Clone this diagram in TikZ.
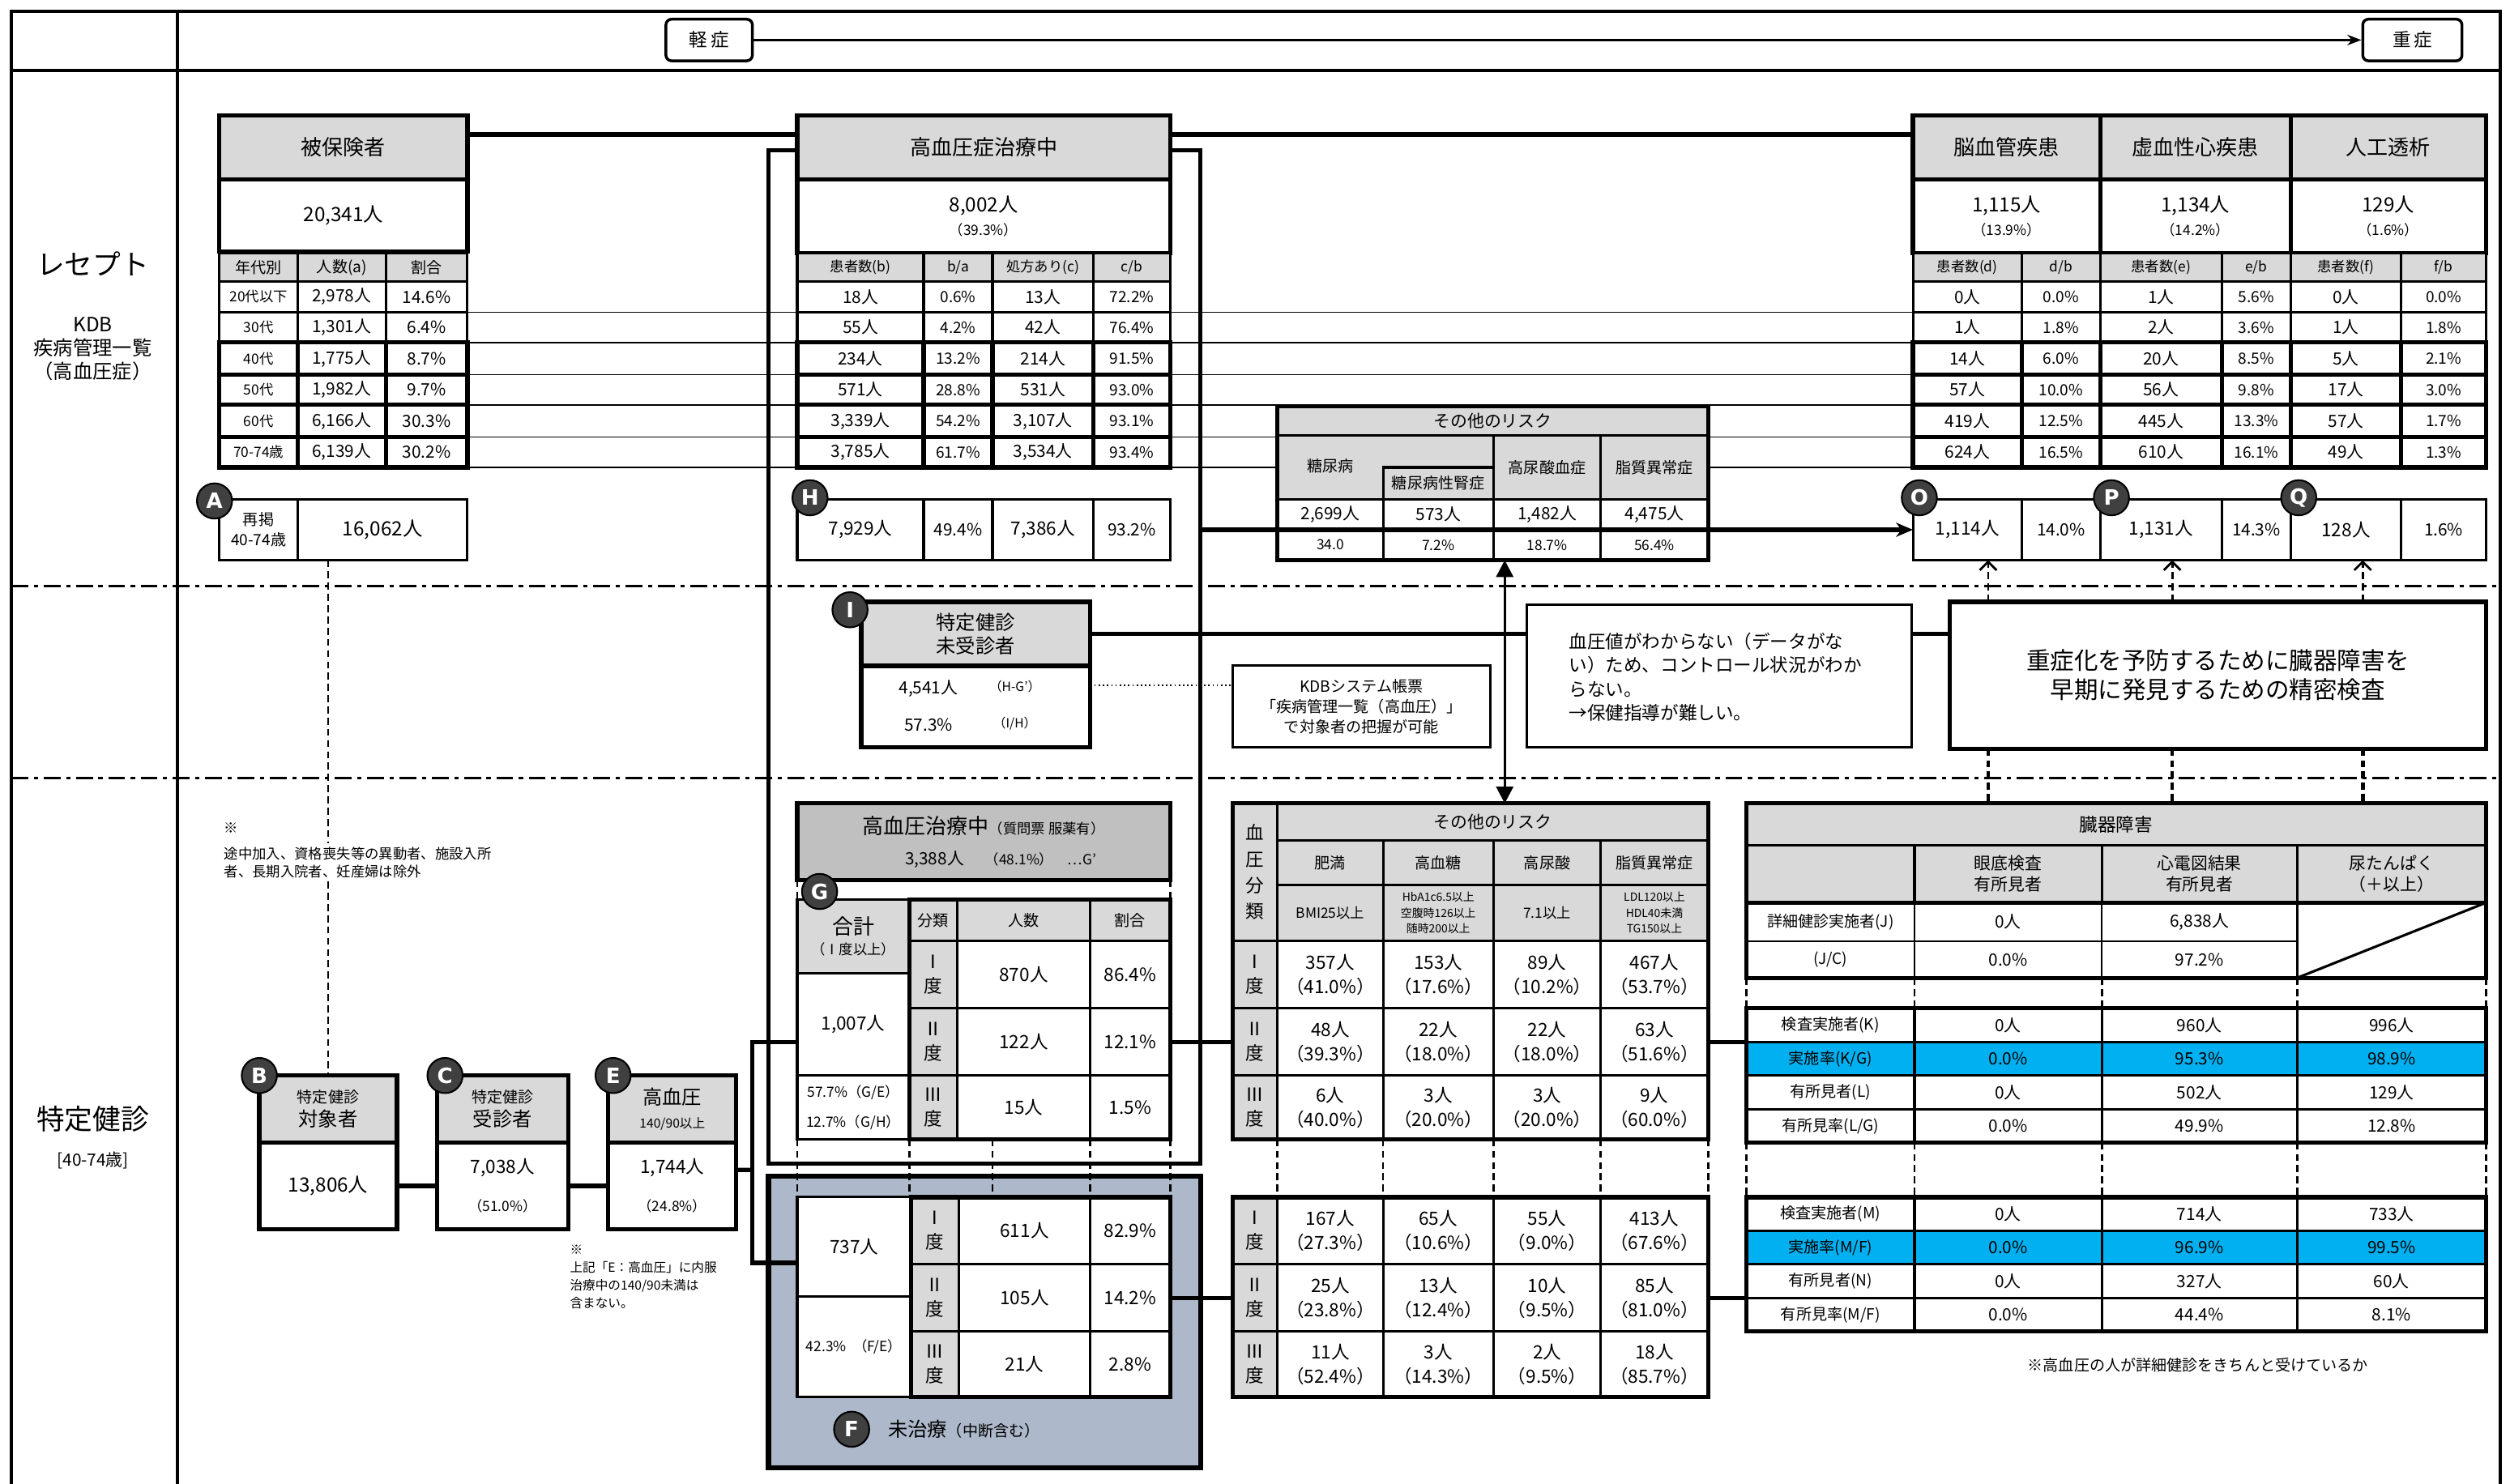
\documentclass[tikz,border=0pt]{standalone}
\usepackage{fontspec}
\setmainfont{Noto Sans CJK JP}
\newfontfamily\badgefont{DejaVu Sans}
\usetikzlibrary{arrows.meta,positioning}
\pgfdeclarelayer{bg}
\pgfsetlayers{bg,main}
\definecolor{hdgray}{HTML}{D9D9D9}
\definecolor{gdark}{HTML}{C0C0C0}
\definecolor{fblue}{HTML}{ADB9CA}
\definecolor{rcyan}{HTML}{00B0F0}
\definecolor{bdgray}{HTML}{404040}
\newcommand{\sz}[2]{\fontsize{#1}{#2}\selectfont}
% cell: [opts]{name}{x1}{y1}{x2}{y2}{text}
\newcommand{\tcell}[7][]{\node[tc,#1,minimum width={(#5-#3)*0.02cm},minimum height={(#6-#4)*0.02cm}] (#2) at ({(#3+#5)/2},{(#4+#6)/2}) {#7};}
\tikzset{
tc/.style={draw,fill=white,line width=0.5pt,inner sep=0pt,outer sep=0pt,align=center},
hd/.style={fill=hdgray},
thk/.style={line width=1.5pt},
med/.style={line width=0.9pt},
conn/.style={line width=1.5pt},
guide/.style={line width=0.4pt},
dd/.style={line width=0.8pt,dash pattern=on 6pt off 2pt on 1.5pt off 2pt},
cdash/.style={line width=0.8pt,dash pattern=on 2.5pt off 1.5pt},
t40/.style={font=\sz{4}{5.6}},
t45/.style={font=\sz{4.5}{6.3}},
t50/.style={font=\sz{5}{6.5}},
t55/.style={font=\sz{5.5}{7.2}},
t60/.style={font=\sz{6}{7.6}},
t65/.style={font=\sz{6.5}{8.5}},
t70/.style={font=\sz{7}{8.4}},
t75/.style={font=\sz{7.5}{9}},
t85/.style={font=\sz{8.5}{10.4}},
t100/.style={font=\sz{10}{12}},
badge/.style={circle,draw=black,line width=0.6pt,fill=bdgray,text=white,inner sep=0pt,
    minimum size=0.44cm,font=\badgefont\bfseries\sz{7.5}{8}},
sev/.style={draw,line width=1pt,rounded corners=2pt,fill=white,minimum height=0.52cm,font=\sz{6.5}{7}},
}
\begin{document}
\begin{tikzpicture}[x=0.02cm,y=-0.02cm]
\useasboundingbox (0,0) rectangle (1568,927);

\draw[line width=1.2pt] (7,927) -- (7,7) -- (1562,7) -- (1562,927);
\draw[line width=1.2pt] (111,7) -- (111,927) (7,44) -- (1562,44);
\draw[dd] (7,366) -- (1562,366) (7,486) -- (1562,486);

\node[sev,minimum width=1.08cm] (mild) at (443,25) {軽\,症};
\node[sev,minimum width=1.24cm] (severe) at (1507,25) {重\,症};
\draw[line width=0.8pt,-{Stealth[length=5pt]}] (mild) -- (severe);

\node[t100] (lrec) at (58,165) {レセプト};
\node[t70,align=center] (lkdb) at (58,218) {KDB\\疾病管理一覧\\（高血圧症）};
\node[t100] (lken) at (58,699) {特定健診};
\node[t60,below=0pt of lken] (lage) {[40-74歳]};

% insured
\tcell[hd,thk,t75]{ins}{137}{72}{292}{112}{被保険者}
\tcell[thk,t70]{insn}{137}{112}{292}{157}{20,341人}
\tcell[hd,med,t55]{agh1}{137}{158}{186}{176}{年代別}
\tcell[hd,med,t55]{agh2}{186}{158}{241}{176}{人数(a)}
\tcell[hd,med,t55]{agh3}{241}{158}{292}{176}{割合}
\foreach \ya/\yb/\lw/\lab/\va/\vb in {176/195/0.9pt/{20代以下}/{2,978人}/{14.6\%},
  195/214/0.9pt/{30代}/{1,301人}/{6.4\%}, 214/234/1.5pt/{40代}/{1,775人}/{8.7\%},
  234/253/1.5pt/{50代}/{1,982人}/{9.7\%}, 253/273/1.5pt/{60代}/{6,166人}/{30.3\%},
  273/292/1.5pt/{70-74歳}/{6,139人}/{30.2\%}}{
  \tcell[line width=\lw,t50]{agl\ya}{137}{\ya}{186}{\yb}{\lab}
  \tcell[line width=\lw,t60]{agn\ya}{186}{\ya}{241}{\yb}{\va}
  \tcell[line width=\lw,t60]{agp\ya}{241}{\ya}{292}{\yb}{\vb}
}
\tcell[med,t55]{arl}{137}{312}{186}{350}{再掲\\40-74歳}
\tcell[med,t70]{anum}{186}{312}{292}{350}{16,062人}

% under treatment
\tcell[hd,thk,t75]{trt}{498}{72}{731}{112}{高血圧症治療中}
\tcell[thk,t70]{trtn}{498}{112}{731}{158}{8,002人\\{\sz{5}{6}（39.3\%）}}
\tcell[hd,med,t50]{th1}{498}{158}{577}{176}{患者数(b)}
\tcell[hd,med,t50]{th2}{577}{158}{620}{176}{b/a}
\tcell[hd,med,t50]{th3}{620}{158}{683}{176}{処方あり(c)}
\tcell[hd,med,t50]{th4}{683}{158}{731}{176}{c/b}
\foreach \ya/\yb/\lw/\va/\vb/\vc/\vd in {176/195/0.9pt/18人/{0.6\%}/13人/{72.2\%},
  195/214/0.9pt/55人/{4.2\%}/42人/{76.4\%}, 214/234/1.5pt/234人/{13.2\%}/214人/{91.5\%},
  234/253/1.5pt/571人/{28.8\%}/531人/{93.0\%}, 253/273/1.5pt/{3,339人}/{54.2\%}/{3,107人}/{93.1\%},
  273/292/1.5pt/{3,785人}/{61.7\%}/{3,534人}/{93.4\%}}{
  \tcell[line width=\lw,t60]{hb\ya}{498}{\ya}{577}{\yb}{\va}
  \tcell[line width=\lw,t55]{hba\ya}{577}{\ya}{620}{\yb}{\vb}
  \tcell[line width=\lw,t60]{hc\ya}{620}{\ya}{683}{\yb}{\vc}
  \tcell[line width=\lw,t55]{hcb\ya}{683}{\ya}{731}{\yb}{\vd}
}
\tcell[med,t65]{hrb}{498}{312}{577}{350}{7,929人}
\tcell[med,t60]{hrba}{577}{312}{620}{350}{49.4\%}
\tcell[med,t65]{hrc}{620}{312}{683}{350}{7,386人}
\tcell[med,t60]{hrcb}{683}{312}{731}{350}{93.2\%}

% diseases
\tcell[hd,thk,t75]{dis1}{1195}{72}{1312}{112}{脳血管疾患}
\tcell[hd,thk,t75]{dis2}{1312}{72}{1431}{112}{虚血性心疾患}
\tcell[hd,thk,t75]{dis3}{1431}{72}{1553}{112}{人工透析}
\tcell[thk,t70]{dis1n}{1195}{112}{1312}{158}{1,115人\\{\sz{5}{6}（13.9\%）}}
\tcell[thk,t70]{dis2n}{1312}{112}{1431}{158}{1,134人\\{\sz{5}{6}（14.2\%）}}
\tcell[thk,t70]{dis3n}{1431}{112}{1553}{158}{129人\\{\sz{5}{6}（1.6\%）}}
\tcell[hd,med,t50]{dh1}{1195}{158}{1263}{176}{患者数(d)}
\tcell[hd,med,t50]{dh2}{1263}{158}{1312}{176}{d/b}
\tcell[hd,med,t50]{dh3}{1312}{158}{1388}{176}{患者数(e)}
\tcell[hd,med,t50]{dh4}{1388}{158}{1431}{176}{e/b}
\tcell[hd,med,t50]{dh5}{1431}{158}{1500}{176}{患者数(f)}
\tcell[hd,med,t50]{dh6}{1500}{158}{1553}{176}{f/b}
\foreach \ya/\yb/\lw/\va/\vb/\vc/\vd/\ve/\vf in {176/195/0.9pt/0人/{0.0\%}/1人/{5.6\%}/0人/{0.0\%},
  195/214/0.9pt/1人/{1.8\%}/2人/{3.6\%}/1人/{1.8\%}, 214/234/1.5pt/14人/{6.0\%}/20人/{8.5\%}/5人/{2.1\%},
  234/253/1.5pt/57人/{10.0\%}/56人/{9.8\%}/17人/{3.0\%}, 253/273/1.5pt/419人/{12.5\%}/445人/{13.3\%}/57人/{1.7\%},
  273/292/1.5pt/624人/{16.5\%}/610人/{16.1\%}/49人/{1.3\%}}{
  \tcell[line width=\lw,t60]{rd\ya}{1195}{\ya}{1263}{\yb}{\va}
  \tcell[line width=\lw,t55]{rdb\ya}{1263}{\ya}{1312}{\yb}{\vb}
  \tcell[line width=\lw,t60]{re\ya}{1312}{\ya}{1388}{\yb}{\vc}
  \tcell[line width=\lw,t55]{reb\ya}{1388}{\ya}{1431}{\yb}{\vd}
  \tcell[line width=\lw,t60]{rf\ya}{1431}{\ya}{1500}{\yb}{\ve}
  \tcell[line width=\lw,t55]{rfb\ya}{1500}{\ya}{1553}{\yb}{\vf}
}
\tcell[med,t65]{o1}{1195}{312}{1263}{350}{1,114人}
\tcell[med,t60]{o2}{1263}{312}{1312}{350}{14.0\%}
\tcell[med,t65]{p1}{1312}{312}{1388}{350}{1,131人}
\tcell[med,t60]{p2}{1388}{312}{1431}{350}{14.3\%}
\tcell[med,t65]{q1}{1431}{312}{1500}{350}{128人}
\tcell[med,t60]{q2}{1500}{312}{1553}{350}{1.6\%}

% other risks (receipt)
\tcell[hd,med,t60]{otop}{798}{254}{1067}{272}{その他のリスク}
\tcell[hd,med]{odm}{798}{272}{933}{312}{}
\tcell[hd,med,t55]{odn}{864}{292}{933}{312}{糖尿病性腎症}
\tcell[hd,med,t55]{ouric}{933}{272}{1000}{312}{高尿酸血症}
\tcell[hd,med,t55]{olip}{1000}{272}{1067}{312}{脂質異常症}
\node[t55] (odmt) at (831,291) {糖尿病};
\tcell[med,t60]{tv1}{798}{312}{864}{331}{2,699人}
\tcell[med,t60]{tv2}{864}{312}{933}{331}{573人}
\tcell[med,t60]{tv3}{933}{312}{1000}{331}{1,482人}
\tcell[med,t60]{tv4}{1000}{312}{1067}{331}{4,475人}
\tcell[med,t50]{tp1}{798}{331}{864}{350}{34.0}
\tcell[med,t50]{tp2}{864}{331}{933}{350}{7.2\%}
\tcell[med,t50]{tp3}{933}{331}{1000}{350}{18.7\%}
\tcell[med,t50]{tp4}{1000}{331}{1067}{350}{56.4\%}
\draw[thk] (otop.north west) rectangle (tp4.south east);

% not examined
\tcell[hd,thk,t70]{ihead}{538}{376}{681}{416}{特定健診\\未受診者}
\tcell[thk]{ival}{538}{416}{681}{467}{}
\node[t60] (in1) at (580,430) {4,541人};
\node[t45] (in2) at (634,429) {（H-G'）};
\node[t60] (in3) at (580,453) {57.3\%};
\node[t45] (in4) at (634,452) {（I/H）};
\tcell[med,t55]{kdb}{770}{416}{931}{467}{KDBシステム帳票\\「疾病管理一覧（高血圧）」\\で対象者の把握が可能}
\tcell[med]{bp}{954}{378}{1194}{467}{}
\node[t65,align=left,anchor=west] (bptxt) at (974,423) {血圧値がわからない（データがな\\い）ため、コントロール状況がわか\\らない。\\→保健指導が難しい。};
\tcell[thk,t85]{prev}{1218}{376}{1553}{468}{重症化を予防するために臓器障害を\\早期に発見するための精密検査}

% check-up flow
\node[t50,anchor=north west,inner sep=1pt] (notemk) at (138,512) {※};
\node[t50,anchor=north west,align=left,inner sep=1pt] (notetx) at (138,527) {途中加入、資格喪失等の異動者、施設入所\\者、長期入院者、妊産婦は除外};
\tcell[hd,thk,t70]{bhead}{162}{672}{248}{714}{{\sz{5.5}{7}特定健診}\\対象者}
\tcell[thk,t70]{bval}{162}{714}{248}{768}{13,806人}
\tcell[hd,thk,t70]{chead}{273}{672}{355}{714}{{\sz{5.5}{7}特定健診}\\受診者}
\tcell[thk,t65]{cval}{273}{714}{355}{768}{7,038人\\[5pt]{\sz{5}{6}（51.0\%）}}
\tcell[hd,thk,t70]{ehead}{380}{672}{460}{714}{高血圧\\{\sz{4.5}{5}140/90以上}}
\tcell[thk,t65]{eval}{380}{714}{460}{768}{1,744人\\[5pt]{\sz{5}{6}（24.8\%）}}
\node[t45,anchor=north west,align=left,inner sep=1pt] (enote) at (354,776) {※\\上記「E：高血圧」に内服\\治療中の140/90未満は\\含まない。};

% G: treated
\tcell[thk,fill=gdark,t75]{ghead}{498}{502}{731}{550}{{\sz{7.5}{9}高血圧治療中}{\sz{5}{6}（質問票 服薬有）}\\[2pt]\hspace*{12pt}{\sz{6}{7}3,388人}\quad{\sz{5}{6}（48.1\%）\quad…G'}}
\tcell[hd,med,t55]{gsum}{498}{562}{568}{608}{{\sz{7.5}{8}合計}\\{\sz{5}{6}（Ⅰ度以上）}}
\tcell[med,t65]{gtot}{498}{608}{568}{672}{1,007人}
\tcell[med,t50]{grat}{498}{672}{568}{712}{57.7\%（G/E）\\[4pt]12.7\%（G/H）}
\tcell[hd,med,t55]{gc1}{568}{562}{598}{588}{分類}
\tcell[hd,med,t55]{gc2}{598}{562}{681}{588}{人数}
\tcell[hd,med,t55]{gc3}{681}{562}{731}{588}{割合}
\foreach \ya/\yb/\rn/\va/\vb in {588/630/Ⅰ/870人/{86.4\%}, 630/672/Ⅱ/122人/{12.1\%}, 672/712/Ⅲ/15人/{1.5\%}}{
  \tcell[hd,med,t65]{gl\ya}{568}{\ya}{598}{\yb}{\rn\\度}
  \tcell[med,t65]{gn\ya}{598}{\ya}{681}{\yb}{\va}
  \tcell[med,t65]{gp\ya}{681}{\ya}{731}{\yb}{\vb}
}
\draw[thk] (gc1.north west) rectangle (gp672.south east);

% F: untreated
\tcell[fill=fblue,line width=1.8pt]{fbox}{480}{735}{750}{917}{}
\tcell[med,t65]{ftot}{498}{748}{569}{810}{737人}
\tcell[med,t50]{frat}{498}{810}{569}{873}{42.3\%\enspace（F/E）}
\foreach \ya/\yb/\rn/\va/\vb in {748/790/Ⅰ/611人/{82.9\%}, 790/832/Ⅱ/105人/{14.2\%}, 832/873/Ⅲ/21人/{2.8\%}}{
  \tcell[hd,med,t65]{fl\ya}{569}{\ya}{599}{\yb}{\rn\\度}
  \tcell[med,t65]{fn\ya}{599}{\ya}{681}{\yb}{\va}
  \tcell[med,t65]{fp\ya}{681}{\ya}{731}{\yb}{\vb}
}
\draw[thk] (fl748.north west) rectangle (fp832.south east);

% other risks (check-up)
\tcell[hd,med,font=\sz{6.5}{9.3}]{bpc}{770}{502}{798}{588}{血\\圧\\分\\類}
\tcell[hd,med,t60]{rkhd}{798}{502}{1067}{525}{その他のリスク}
\tcell[hd,med,t55]{rkn1}{798}{525}{864}{553}{肥満}
\tcell[hd,med,t55]{rkn2}{864}{525}{933}{553}{高血糖}
\tcell[hd,med,t55]{rkn3}{933}{525}{1000}{553}{高尿酸}
\tcell[hd,med,t55]{rkn4}{1000}{525}{1067}{553}{脂質異常症}
\tcell[hd,med,t50]{rkc1}{798}{553}{864}{588}{BMI25以上}
\tcell[hd,med,t40]{rkc2}{864}{553}{933}{588}{HbA1c6.5以上\\空腹時126以上\\随時200以上}
\tcell[hd,med,t50]{rkc3}{933}{553}{1000}{588}{7.1以上}
\tcell[hd,med,t40]{rkc4}{1000}{553}{1067}{588}{LDL120以上\\HDL40未満\\TG150以上}
\foreach \ya/\yb/\rn/\va/\vb/\vc/\vd in {588/630/Ⅰ/{357人\\（41.0\%）}/{153人\\（17.6\%）}/{89人\\（10.2\%）}/{467人\\（53.7\%）},
  630/672/Ⅱ/{48人\\（39.3\%）}/{22人\\（18.0\%）}/{22人\\（18.0\%）}/{63人\\（51.6\%）},
  672/712/Ⅲ/{6人\\（40.0\%）}/{3人\\（20.0\%）}/{3人\\（20.0\%）}/{9人\\（60.0\%）}}{
  \tcell[hd,med,t65]{rul\ya}{770}{\ya}{798}{\yb}{\rn\\度}
  \tcell[med,t65]{rua\ya}{798}{\ya}{864}{\yb}{\va}
  \tcell[med,t65]{rub\ya}{864}{\ya}{933}{\yb}{\vb}
  \tcell[med,t65]{ruc\ya}{933}{\ya}{1000}{\yb}{\vc}
  \tcell[med,t65]{rud\ya}{1000}{\ya}{1067}{\yb}{\vd}
}
\draw[thk] (bpc.north west) rectangle (rud672.south east);
\foreach \ya/\yb/\rn/\va/\vb/\vc/\vd in {748/790/Ⅰ/{167人\\（27.3\%）}/{65人\\（10.6\%）}/{55人\\（9.0\%）}/{413人\\（67.6\%）},
  790/832/Ⅱ/{25人\\（23.8\%）}/{13人\\（12.4\%）}/{10人\\（9.5\%）}/{85人\\（81.0\%）},
  832/873/Ⅲ/{11人\\（52.4\%）}/{3人\\（14.3\%）}/{2人\\（9.5\%）}/{18人\\（85.7\%）}}{
  \tcell[hd,med,t65]{rll\ya}{770}{\ya}{798}{\yb}{\rn\\度}
  \tcell[med,t65]{rla\ya}{798}{\ya}{864}{\yb}{\va}
  \tcell[med,t65]{rlb\ya}{864}{\ya}{933}{\yb}{\vb}
  \tcell[med,t65]{rlc\ya}{933}{\ya}{1000}{\yb}{\vc}
  \tcell[med,t65]{rld\ya}{1000}{\ya}{1067}{\yb}{\vd}
}
\draw[thk] (rll748.north west) rectangle (rld832.south east);

% organ damage
\tcell[hd,med,t65]{orgh}{1091}{502}{1553}{528}{臓器障害}
\tcell[hd,med]{orgc0}{1091}{528}{1196}{564}{}
\tcell[hd,med,t60]{orgc1}{1196}{528}{1313}{564}{眼底検査\\有所見者}
\tcell[hd,med,t60]{orgc2}{1313}{528}{1435}{564}{心電図結果\\有所見者}
\tcell[hd,med,t60]{orgc3}{1435}{528}{1553}{564}{尿たんぱく\\（＋以上）}
\tcell[t55]{oj0}{1091}{564}{1196}{588}{詳細健診実施者(J)}
\tcell[t60]{oj1}{1196}{564}{1313}{588}{0人}
\tcell[t60]{oj2}{1313}{564}{1435}{588}{6,838人}
\tcell[t55]{ojc0}{1091}{588}{1196}{611}{(J/C)}
\tcell[t60]{ojc1}{1196}{588}{1313}{611}{0.0\%}
\tcell[t60]{ojc2}{1313}{588}{1435}{611}{97.2\%}
\tcell[med]{oj3}{1435}{564}{1553}{611}{}
\draw[med] (oj3.south west) -- (oj3.north east);
\draw[thk] (orgh.north west) rectangle (oj3.south east);
\draw[thk] (orgc0.south west) -- (orgc3.south east);
\foreach \ya/\yb/\col/\lab/\va/\vb/\vc in {630/651/white/{検査実施者(K)}/0人/960人/996人,
  651/672/rcyan/{実施率(K/G)}/{0.0\%}/{95.3\%}/{98.9\%}, 672/693/white/{有所見者(L)}/0人/502人/129人,
  693/714/white/{有所見率(L/G)}/{0.0\%}/{49.9\%}/{12.8\%}}{
  \tcell[med,fill=\col,t55]{oka\ya}{1091}{\ya}{1196}{\yb}{\lab}
  \tcell[med,fill=\col,t60]{okb\ya}{1196}{\ya}{1313}{\yb}{\va}
  \tcell[med,fill=\col,t60]{okc\ya}{1313}{\ya}{1435}{\yb}{\vb}
  \tcell[med,fill=\col,t60]{okd\ya}{1435}{\ya}{1553}{\yb}{\vc}
}
\draw[thk] (oka630.north west) rectangle (okd693.south east);
\foreach \ya/\yb/\col/\lab/\va/\vb/\vc in {748/769/white/{検査実施者(M)}/0人/714人/733人,
  769/790/rcyan/{実施率(M/F)}/{0.0\%}/{96.9\%}/{99.5\%}, 790/811/white/{有所見者(N)}/0人/327人/60人,
  811/832/white/{有所見率(M/F)}/{0.0\%}/{44.4\%}/{8.1\%}}{
  \tcell[med,fill=\col,t55]{oma\ya}{1091}{\ya}{1196}{\yb}{\lab}
  \tcell[med,fill=\col,t60]{omb\ya}{1196}{\ya}{1313}{\yb}{\va}
  \tcell[med,fill=\col,t60]{omc\ya}{1313}{\ya}{1435}{\yb}{\vb}
  \tcell[med,fill=\col,t60]{omd\ya}{1435}{\ya}{1553}{\yb}{\vc}
}
\draw[thk] (oma748.north west) rectangle (omd811.south east);
\node[t55] (onote) at (1373,853) {※高血圧の人が詳細健診をきちんと受けているか};

% connectors
\begin{pgfonlayer}{bg}
\draw[thk] (480,94) rectangle (750,727);
\foreach \ya in {176,195,214,234,253,273}{
  \draw[guide] (agp\ya.south east) -- (hb\ya.south west);
  \draw[guide] (hcb\ya.south east) -- (rd\ya.south west);
}
\end{pgfonlayer}
\draw[conn] ([yshift=0.16cm]ins.east) -- ([yshift=0.16cm]trt.west);
\draw[conn] ([yshift=0.16cm]trt.east) -- ([yshift=0.16cm]dis1.west);
\coordinate (hout) at (750,331);
\draw[conn,-{Stealth[length=6pt,width=5pt]}] (hout) -- (o1.west);
\draw[conn] (ihead.east) -- (bp.west |- ihead.east);
\draw[conn] (bp.east |- ihead.east) -- (prev.west |- ihead.east);
\draw[densely dotted,line width=0.5pt] ([yshift=0.27cm]ival.east) -- ([yshift=0.27cm]kdb.west);
\coordinate (darr) at ([xshift=0.14cm]tp3.south west);
\draw[line width=1pt,{Triangle[length=6pt,width=6pt]}-{Triangle[length=6pt,width=6pt]}] (darr) -- (darr |- rkhd.north);
\foreach \x in {1242,1357,1476}{
  \draw[cdash,-{Straight Barb[length=3pt,width=6pt]}] (prev.north -| \x,0) -- (o1.south -| \x,0);
  \draw[cdash,line width=1.3pt] (prev.south -| \x,0) -- (orgh.north -| \x,0);
}
\draw[cdash] (anum.south -| bhead.north) -- (notetx.north -| bhead.north);
\draw[cdash] (notetx.south -| bhead.north) -- (bhead.north);
\draw[conn] (bval.east) -- (cval.west);
\draw[conn] (cval.east) -- (eval.west);
\coordinate (brkE) at (470,731);
\coordinate (brkT) at (470,651);
\coordinate (brkB) at (470,789);
\draw[conn] ([yshift=0.2cm]eval.east) -- (brkE);
\draw[conn] (gtot.west |- brkT) -- (brkT) -- (brkB) -- (ftot.west |- brkB);
\draw[conn] (gp630.east) -- (rul630.west);
\draw[conn] (fp790.east) -- (rll790.west);
\draw[conn] (rud630.east) -- (oka630.west |- rud630.east);
\draw[conn] (rld790.east) -- (oma748.west |- rld790.east);
\foreach \x in {498,731} \draw[cdash] (\x,550) -- (\x,562);
\foreach \x in {498,568,620,681,731} \draw[cdash] (\x,712) -- (\x,748);
\foreach \x in {798,864,933,1000,1067} \draw[cdash] (\x,712) -- (\x,748);
\foreach \x in {1091,1196,1313,1435,1553}{
  \draw[cdash] (\x,611) -- (\x,630);
  \draw[cdash] (\x,714) -- (\x,748);
}

\foreach \nm/\px/\py in {A/134/313, B/162/672, C/278/672, E/383/672, H/506/311, O/1199/311,
  P/1319/311, Q/1436/311, I/531/381, G/512/557, F/532/893}
  \node[badge] (bdg\nm) at (\px,\py) {\nm};
\node[t70,right=0.1cm of bdgF] (flab) {未治療{\sz{5.5}{6}（中断含む）}};
\end{tikzpicture}
\end{document}
